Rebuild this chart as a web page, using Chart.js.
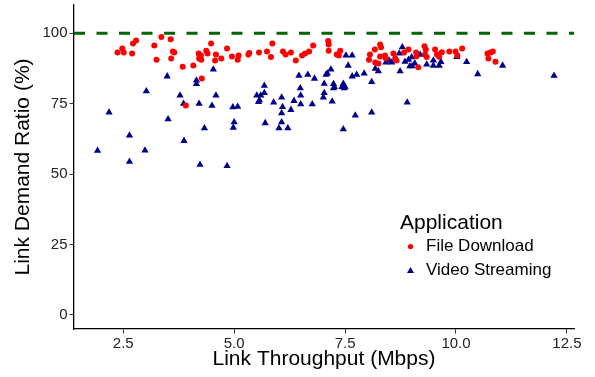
<!DOCTYPE html>
<html>
<head>
<meta charset="utf-8">
<script src="https://cdn.jsdelivr.net/npm/chart.js@4.4.0/dist/chart.umd.min.js"></script>
<style>
  html, body { margin: 0; padding: 0; background: #fff; }
  #wrap { position: relative; width: 595px; height: 377px; }
  #legend { position: absolute; left: 400px; top: 209px; font-family: "Liberation Sans", Arial, Helvetica, sans-serif; color: #000; }
  #legend .title { font-size: 21px; line-height: 25px; }
  #legend .item { font-size: 17px; line-height: 24px; height: 24px; display: flex; align-items: center; }
  #legend .mk { width: 26px; height: 24px; display: inline-block; position: relative; }
  #legend svg { position: absolute; left: 0; top: 0; }
</style>
</head>
<body>
<div id="wrap">
  <canvas id="c" width="595" height="377"></canvas>
  <div id="legend">
    <div class="title">Application</div>
    <div class="item"><span class="mk"><svg width="26" height="24"><circle cx="10.5" cy="12.5" r="2.6" fill="#FF0000"/></svg></span><span>File Download</span></div>
    <div class="item"><span class="mk"><svg width="26" height="24"><polygon points="10.5,9 14,15 7,15" fill="#00008B"/></svg></span><span>Video Streaming</span></div>
  </div>
</div>
<script>
// ---- data ----
const seriesNames = ["File Download", "Video Streaming"];

const fileX = [2.37,2.48,2.51,2.70,2.72,2.79,3.20,3.25,3.36,3.57,3.62,3.65,3.58,3.84,4.08,4.20,4.25,4.21,4.26,4.37,4.40,4.48,4.59,4.57,4.71,4.84,4.95,5.10,5.08,5.32,5.34,4.27,3.91,5.56,5.74,5.83,5.86,6.10,6.16,6.28,6.39,6.53,6.60,6.69,6.78,7.12,7.13,7.13,7.31,7.36,7.39,8.06,8.04,8.17,8.29,8.31,8.18,8.25,8.29,8.40,8.42,8.59,8.63,8.66,8.83,8.93,9.10,9.11,9.15,9.29,9.32,9.30,9.34,9.53,9.57,9.62,9.68,9.85,9.99,10.03,10.14,10.71,10.73,10.78,10.83,10.89];
const fileY = [93.1,94.6,93.1,92.8,96.3,97.4,95.6,90.6,98.6,97.8,93.5,93.1,91.0,88.1,88.5,92.8,92.1,91.0,90.6,93.8,92.8,96.3,92.4,90.3,91.0,94.6,91.7,92.1,90.6,92.4,93.0,83.9,74.3,93.1,93.5,91.5,96.3,93.5,92.4,93.1,90.3,92.1,92.8,93.5,95.6,97.2,96.0,93.8,92.4,92.1,93.8,92.4,90.6,94.2,96.0,95.0,89.6,89.2,91.7,92.1,91.0,92.8,91.0,90.3,93.1,94.2,93.1,91.8,87.9,95.4,94.2,92.4,91.5,94.2,92.4,91.6,93.2,93.5,93.5,92.1,94.6,92.8,91.0,93.1,93.5,89.9];

const videoX = [3.49,4.53,4.15,4.15,3.02,3.78,4.59,3.86,4.21,4.50,4.97,5.08,2.18,3.51,5.00,4.33,4.98,2.64,3.87,1.92,2.99,2.64,4.23,4.84,8.79,7.52,7.66,7.57,8.72,8.93,9.00,8.85,9.07,8.96,9.01,8.42,8.49,8.55,8.18,8.25,8.74,7.18,7.10,7.07,6.46,6.66,6.81,7.66,7.76,7.93,8.10,7.03,7.24,7.26,7.24,7.46,7.43,7.50,7.48,5.68,5.68,6.49,6.50,7.03,7.01,5.51,5.60,5.57,5.55,5.89,6.07,6.35,6.50,6.76,7.21,6.09,6.28,6.07,8.90,5.70,6.07,6.01,6.21,7.73,8.10,7.46,9.19,9.34,9.49,9.62,9.66,9.49,10.02,10.24,10.49,11.05,12.21];
const videoY = [84.7,87.1,83.2,82.0,79.4,77.9,77.9,75.0,75.0,74.3,73.7,73.9,71.9,69.5,68.4,66.3,66.5,63.7,61.8,58.3,58.4,54.4,53.3,52.9,95.0,92.1,92.1,88.5,92.8,90.6,91.5,89.9,89.3,88.3,88.3,89.6,90.3,89.6,87.4,86.5,86.5,87.1,85.7,85.3,84.9,85.3,83.9,84.7,85.3,85.7,82.7,82.1,82.0,80.9,80.5,82.1,80.9,80.9,80.5,81.4,78.8,80.5,77.9,78.8,77.2,77.9,77.9,76.2,75.6,75.4,77.2,76.0,74.8,74.8,75.8,73.8,72.8,71.6,75.4,68.1,68.4,66.3,66.3,70.8,71.9,65.9,92.4,88.9,88.5,88.5,89.8,90.3,91.6,89.8,85.5,88.5,84.9];

const xTicks = [2.5, 5.0, 7.5, 10.0, 12.5];
const yTicks = [0, 25, 50, 75, 100];
const referenceLine = 100;
const xRange = [1.39, 12.66];
const yRange = [-5, 110];

// ---- chart ----
const FONT = "'Liberation Sans', Arial, Helvetica, sans-serif";
const toPts = (xs, ys) => xs.map((x, i) => ({x: x, y: ys[i]}));

new Chart(document.getElementById('c'), {
  type: 'scatter',
  data: {
    datasets: [
      {
        type: 'line',
        label: 'ref',
        data: [{x: xRange[0], y: referenceLine}, {x: xRange[1], y: referenceLine}],
        borderColor: '#006400',
        borderWidth: 3,
        borderDash: [11, 11.5],
        pointRadius: 0,
        fill: false
      },
      {
        label: seriesNames[0],
        data: toPts(fileX, fileY),
        pointStyle: 'circle',
        pointRadius: 3,
        backgroundColor: '#FF0000',
        borderColor: '#FF0000',
        borderWidth: 0
      },
      {
        label: seriesNames[1],
        data: toPts(videoX, videoY),
        pointStyle: 'triangle',
        pointRadius: 4.2,
        backgroundColor: '#00008B',
        borderColor: '#00008B',
        borderWidth: 0
      }
    ]
  },
  options: {
    responsive: false,
    animation: false,
    devicePixelRatio: 1,
    layout: { autoPadding: false, padding: { top: 5, right: 21, left: 0, bottom: 0 } },
    plugins: {
      legend: { display: false },
      tooltip: { enabled: false }
    },
    scales: {
      x: {
        type: 'linear',
        min: xRange[0],
        max: xRange[1],
        afterBuildTicks: (s) => { s.ticks = xTicks.map(v => ({value: v})); },
        afterFit: (s) => { s.height = 48; s.paddingLeft = 0; s.paddingRight = 0; },
        grid: { drawOnChartArea: false, drawTicks: true, tickLength: 4.5, tickColor: '#333', tickWidth: 1 },
        border: { display: true, color: '#000', width: 1.3 },
        ticks: {
          color: '#222',
          font: { family: FONT, size: 15 },
          padding: 1.5,
          maxRotation: 0,
          callback: (v) => Number(v).toFixed(1)
        },
        title: {
          display: true,
          text: 'Link Throughput (Mbps)',
          color: '#000',
          font: { family: FONT, size: 21 },
          padding: { top: 0, bottom: 5 }
        }
      },
      y: {
        type: 'linear',
        min: yRange[0],
        max: yRange[1],
        afterBuildTicks: (s) => { s.ticks = yTicks.map(v => ({value: v})); },
        afterFit: (s) => { s.width = 74; s.paddingTop = 0; s.paddingBottom = 0; },
        grid: { drawOnChartArea: false, drawTicks: true, tickLength: 4.5, tickColor: '#333', tickWidth: 1 },
        border: { display: true, color: '#000', width: 1.3 },
        ticks: {
          color: '#222',
          font: { family: FONT, size: 15 },
          padding: 2,
          callback: (v) => String(v)
        },
        title: {
          display: true,
          text: 'Link Demand Ratio (%)',
          color: '#000',
          font: { family: FONT, size: 21 },
          padding: { top: 10.5, bottom: 0 }
        }
      }
    }
  },
  plugins: [{
    id: 'whiteBg',
    beforeDraw: (chart) => {
      const ctx = chart.ctx;
      ctx.save();
      ctx.fillStyle = '#fff';
      ctx.fillRect(0, 0, chart.width, chart.height);
      ctx.restore();
    }
  }]
});
</script>
</body>
</html>
